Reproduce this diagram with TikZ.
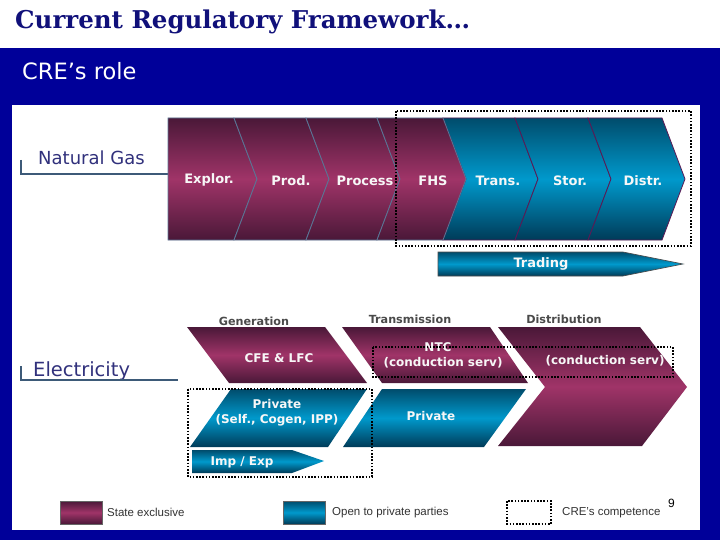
\documentclass[tikz,border=0pt]{standalone}
\usepackage{fontspec}
\setmainfont{DejaVu Sans}
\newfontfamily\titlefont{DejaVu Serif}
\newfontfamily\legfont{Liberation Sans}
\definecolor{navyband}{HTML}{000099}
\definecolor{titleblue}{HTML}{10107A}
\definecolor{magD}{HTML}{4A1838}
\definecolor{magM}{HTML}{A03468}
\definecolor{bluD}{HTML}{004C6C}
\definecolor{bluB}{HTML}{003B58}
\definecolor{bluM}{HTML}{0099CC}
\definecolor{ngline}{HTML}{3D5A78}
\definecolor{magedge}{HTML}{5A7595}
\definecolor{bluedge}{HTML}{5A1A55}
\definecolor{labgray}{HTML}{4A4A4A}
\definecolor{leggray}{HTML}{333333}
\begin{document}
\begin{tikzpicture}[x=1pt,y=-1pt,
  magfill/.style={top color=magD, bottom color=magD, middle color=magM},
  blufill/.style={top color=bluD, bottom color=bluB, middle color=bluM},
  magshape/.style={magfill, draw=magedge, line width=0.8pt},
  blushape/.style={blufill, draw=bluedge, line width=0.8pt},
  elecmag/.style={magfill},
  elecblu/.style={blufill},
  crebox/.style={draw=black, line width=1.3pt, dash pattern=on 1.6pt off 1.6pt},
  chevtext/.style={text=white!94!gray, font=\bfseries\fontsize{13}{13}\selectfont, inner sep=0},
  eltext/.style={text=white!94!gray, font=\bfseries\fontsize{12}{15}\selectfont, inner sep=0, align=center},
  collabel/.style={text=labgray, font=\bfseries\fontsize{11.2}{11.2}\selectfont, inner sep=0},
  seclabel/.style={text=titleblue!70!gray, font=\fontsize{18}{18}\selectfont, inner sep=0, anchor=base west},
  legtext/.style={text=leggray, font=\legfont\fontsize{11.5}{11.5}\selectfont, inner sep=0, anchor=west},
  arrowshape/.style={blufill, draw=black!70, line width=0.6pt}
]
\useasboundingbox (0,0) rectangle (720,540);
\fill[white] (0,0) rectangle (720,540);
\fill[navyband] (0,48) rectangle (720,540);
\fill[white] (12,105) rectangle (700,530);

% titles
\node[anchor=base west, text=titleblue, font=\titlefont\bfseries\fontsize{24.5}{24.5}\selectfont, inner sep=0] (title) at (15,29) {Current Regulatory Framework…};
\node[anchor=base west, text=white, font=\fontsize{22.5}{22.5}\selectfont, inner sep=0] (role) at (22,80) {CRE’s role};

% Natural gas label
\node[seclabel] (nglab) at (38,165) {Natural Gas};
\coordinate (ngA) at (21,174);
\coordinate (ngB) at (168,174);
\draw[ngline, line width=2pt] (ngA) -- (ngB);
\draw[ngline, line width=2.6pt] (21,160) -- (21,175);

% natural gas chain: blue part first
\foreach \a/\b in {443/515, 515/588, 588/662}
  \path[blushape] (\a,118) -- (\b,118) -- ({\b+23},179) -- (\b,240) -- (\a,240) -- ({\a+23},179) -- cycle;
\foreach \a/\b/\n in {168/234/0, 234/306/23, 306/377/23, 377/443/23}
  \path[magshape] (\a,118) -- (\b,118) -- ({\b+23},179) -- (\b,240) -- (\a,240) -- ({\a+\n},179) -- cycle;

\node[chevtext] (ng1) at (209,180) {Explor.};
\node[chevtext] (ng2) at (291,181) {Prod.};
\node[chevtext] (ng3) at (365,181) {Process};
\node[chevtext] (ng4) at (433,181) {FHS};
\node[chevtext] (ng5) at (498,181) {Trans.};
\node[chevtext] (ng6) at (570,181) {Stor.};
\node[chevtext] (ng7) at (643,181) {Distr.};

\draw[crebox] (396,111) rectangle (691,246);

% Trading arrow
\path[arrowshape] (438,252) -- (623,252) -- (683,264) -- (623,276) -- (438,276) -- cycle;
\node[chevtext] (trading) at (541,264) {Trading};

% Electricity label
\node[seclabel, font=\fontsize{19.5}{19.5}\selectfont] (ellab) at (33,376) {Electricity};
\coordinate (elA) at (21,380);
\coordinate (elB) at (178,380);
\draw[ngline, line width=2pt] (elA) -- (elB);
\draw[ngline, line width=2.6pt] (21,366) -- (21,381);

% column labels
\node[collabel] (gen) at (254,321) {Generation};
\node[collabel] (trn) at (410,319) {Transmission};
\node[collabel] (dst) at (564,319) {Distribution};

% electricity shapes
\path[elecmag] (187,327) -- (325,327) -- (367,383) -- (229,383) -- cycle;
\path[elecblu] (231,389) -- (367,389) -- (328,447) -- (190,447) -- cycle;
\path[elecmag] (342,327) -- (490,327) -- (528,383) -- (382,383) -- cycle;
\path[elecblu] (382,389) -- (526,389) -- (484,447) -- (343,447) -- cycle;
\path[elecmag] (498,327) -- (640,327) -- (687,387) -- (642,446) -- (498,446) -- (545,387) -- cycle;
\path[arrowshape, draw=none] (192,450) -- (292,450) -- (324,461) -- (292,473) -- (192,473) -- cycle;

\node[eltext] (cfe) at (279,358) {CFE \& LFC};
\node[eltext] (priv) at (277,413) {Private\\(Self., Cogen, IPP)};
\node[eltext] (ntc) at (438,347) {NTC};
\node[eltext] (ntccs) at (443,363) {(conduction serv)};
\node[eltext] (dstcs) at (605,361) {(conduction serv)};
\node[eltext] (privt) at (431,416) {Private};
\node[eltext] (impexp) at (242,462) {Imp / Exp};

\draw[crebox] (188,389) rectangle (372,477);
\draw[crebox] (373,347) rectangle (673,377);

% legend
\path[magfill, draw=black!60, line width=0.6pt] (60,501) rectangle (102,524);
\node[legtext] (l1) at (107,512) {State exclusive};
\path[blufill, draw=black!60, line width=0.6pt] (283,501) rectangle (325,524);
\node[legtext] (l2) at (332,513) {Open to private parties};
\draw[crebox, line width=1.1pt] (507,501) rectangle (551,524);
\node[legtext] (l3) at (562,513) {CRE’s competence};
\node[legtext, text=black, font=\legfont\fontsize{12}{12}\selectfont] (pg) at (668,503) {9};
\end{tikzpicture}
\end{document}
